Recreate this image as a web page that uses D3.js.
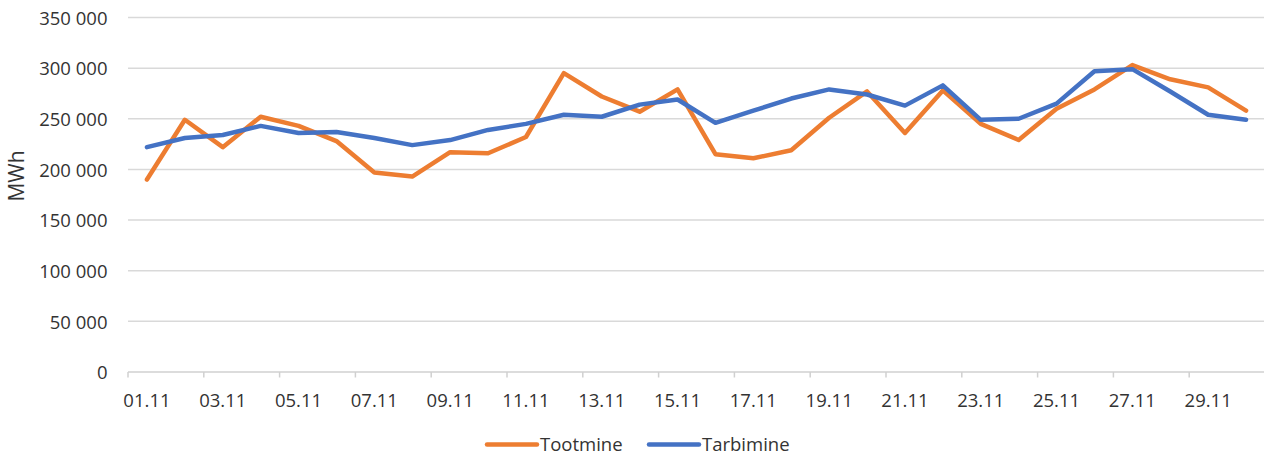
<!DOCTYPE html>
<html>
<head>
<meta charset="utf-8">
<script src="https://cdn.jsdelivr.net/npm/d3@7"></script>
<style>
  html, body { margin: 0; padding: 0; background: #fff; }
  svg { display: block; }
  text { font-family: "Open Sans", "Noto Sans", sans-serif; fill: #333333; }
</style>
</head>
<body>
<svg id="chart" width="1264" height="456"></svg>
<script>
const categories = ["01.11","02.11","03.11","04.11","05.11","06.11","07.11","08.11","09.11","10.11",
  "11.11","12.11","13.11","14.11","15.11","16.11","17.11","18.11","19.11","20.11",
  "21.11","22.11","23.11","24.11","25.11","26.11","27.11","28.11","29.11","30.11"];
const tootmine = [190000, 249000, 222000, 252000, 243000, 228000, 197000, 193000, 217000, 216000,
  232000, 295000, 272000, 257000, 279000, 215000, 211000, 219000, 251000, 277000,
  236000, 278000, 245000, 229000, 260000, 279000, 303000, 289000, 281000, 258000];
const tarbimine = [222000, 231000, 234000, 243000, 236000, 237000, 231000, 224000, 229000, 239000,
  245000, 254000, 252000, 264000, 269000, 246000, 258000, 270000, 279000, 274000,
  263000, 283000, 249000, 250000, 265000, 297000, 299000, 277000, 254000, 249000];
const yTicks = [0, 50000, 100000, 150000, 200000, 250000, 300000, 350000];
const seriesNames = ["Tootmine", "Tarbimine"];
const seriesColors = ["#ED7D31", "#4472C4"];
const yTitle = "MWh";

const svg = d3.select("#chart");
const plotLeft = 128, plotRight = 1265, plotTop = 17.5, plotBottom = 372;
const fontSize = "18.5px";

const x = d3.scaleBand().domain(categories).range([plotLeft, plotRight]).padding(0);
const y = d3.scaleLinear().domain([0, 350000]).range([plotBottom, plotTop]);

const loc = d3.formatLocale({decimal: ",", thousands: " ", grouping: [3], currency: ["", ""]});
const fmt = loc.format(",d");

// gridlines
svg.append("g")
  .selectAll("line")
  .data(yTicks.filter(d => d > 0))
  .join("line")
  .attr("x1", plotLeft).attr("x2", plotRight)
  .attr("y1", d => y(d)).attr("y2", d => y(d))
  .attr("stroke", "#d9d9d9").attr("stroke-width", 1.5);

// y axis labels
const yAxis = d3.axisLeft(y).tickValues(yTicks).tickFormat(fmt).tickSize(0).tickPadding(0);
const gy = svg.append("g").attr("transform", "translate(107.5,0)").call(yAxis);
gy.select(".domain").remove();
gy.selectAll("text").style("font-size", fontSize).attr("fill", "#333333")
  .style("font-family", '"Open Sans", sans-serif').attr("dy", "0.36em");

// x axis line
svg.append("line")
  .attr("x1", plotLeft).attr("x2", plotRight)
  .attr("y1", y(0)).attr("y2", y(0))
  .attr("stroke", "#d0d0d0").attr("stroke-width", 1.5);

// tick marks every two categories at band boundaries
const tickCats = categories.filter((d, i) => i % 2 === 0);
svg.append("g").selectAll("line")
  .data(tickCats)
  .join("line")
  .attr("x1", d => x(d)).attr("x2", d => x(d))
  .attr("y1", y(0)).attr("y2", y(0) + 5.5)
  .attr("stroke", "#d0d0d0").attr("stroke-width", 1.5);

// x labels
svg.append("g").selectAll("text")
  .data(tickCats)
  .join("text")
  .attr("x", d => x(d) + x.bandwidth() / 2)
  .attr("y", 406.5)
  .attr("text-anchor", "middle")
  .style("font-size", fontSize)
  .text(d => d);

// y title
svg.append("text")
  .attr("transform", "translate(24,176) rotate(-90)")
  .attr("text-anchor", "middle")
  .style("font-size", "21px")
  .text(yTitle);

// lines
const line = d3.line()
  .x((d, i) => x(categories[i]) + x.bandwidth() / 2)
  .y(d => y(d));

[tootmine, tarbimine].forEach((s, k) => {
  svg.append("path")
    .datum(s)
    .attr("d", line)
    .attr("fill", "none")
    .attr("stroke", seriesColors[k])
    .attr("stroke-width", 4.5)
    .attr("stroke-linejoin", "round")
    .attr("stroke-linecap", "round");
});

// legend
const legendItems = [
  {name: seriesNames[0], color: seriesColors[0], x0: 487},
  {name: seriesNames[1], color: seriesColors[1], x0: 649}
];
const lg = svg.append("g");
legendItems.forEach(it => {
  lg.append("line")
    .attr("x1", it.x0).attr("x2", it.x0 + 50)
    .attr("y1", 444.5).attr("y2", 444.5)
    .attr("stroke", it.color).attr("stroke-width", 4.5).attr("stroke-linecap", "round");
  lg.append("text")
    .attr("x", it.x0 + 53)
    .attr("y", 451)
    .style("font-size", fontSize)
    .text(it.name);
});
</script>
</body>
</html>
